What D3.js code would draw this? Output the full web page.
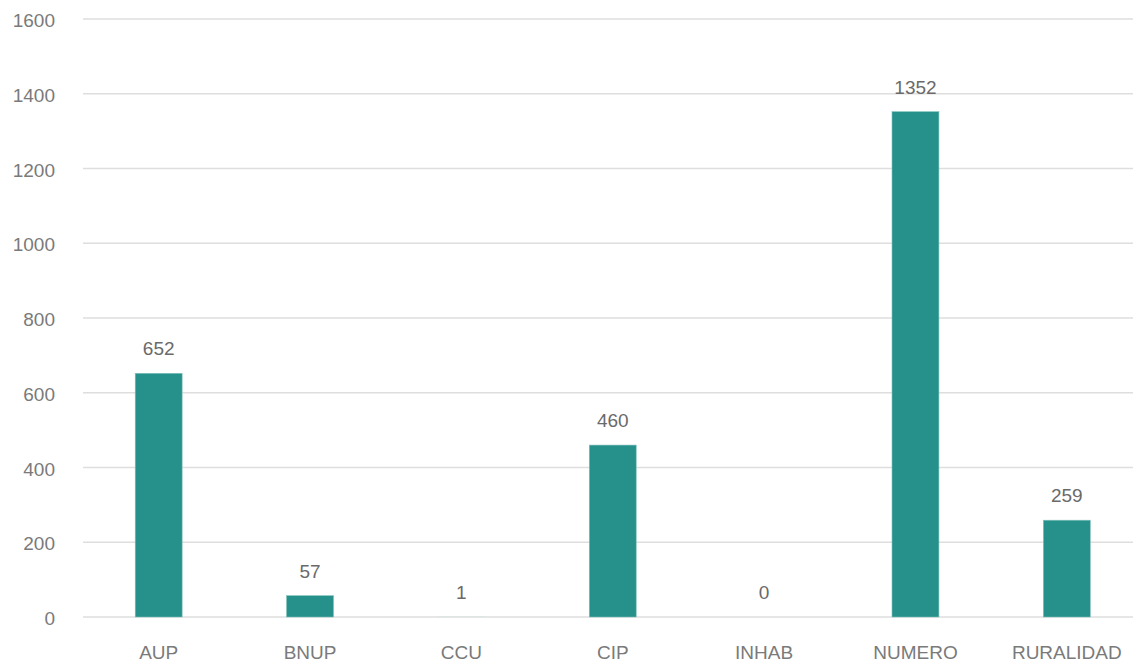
<!DOCTYPE html>
<html><head><meta charset="utf-8">
<script src="https://cdn.jsdelivr.net/npm/d3@7"></script>
<style>body{margin:0;background:#fff}svg{display:block}</style>
</head><body>
<svg id="c" width="1133" height="664"></svg>
<script>
const categories = ["AUP","BNUP","CCU","CIP","INHAB","NUMERO","RURALIDAD"];
const values = [652,57,1,460,0,1352,259];
const yTicks = [0,200,400,600,800,1000,1200,1400,1600];

const svg = d3.select("#c");
const font = "'Liberation Sans', Arial, sans-serif";
const x = d3.scaleBand().domain(categories).range([83,1142.5]).paddingInner(0.69).paddingOuter(0.345);
const y = d3.scaleLinear().domain([0,1600]).range([617,19]);

const g = svg.append("g");
g.selectAll("line.grid").data(yTicks).join("line")
  .attr("x1",83).attr("x2",1133)
  .attr("y1",d=>y(d)).attr("y2",d=>y(d))
  .attr("stroke","#dedede").attr("stroke-width",1.5);

g.selectAll("text.yt").data(yTicks).join("text")
  .attr("x",55).attr("y",d=>y(d)+8)
  .attr("text-anchor","end").attr("font-family",font).attr("font-size",19)
  .attr("fill","#7a7a7a").text(d=>d);

g.selectAll("rect.bar").data(values).join("rect")
  .attr("x",(d,i)=>x(categories[i]))
  .attr("width",x.bandwidth())
  .attr("y",d=>y(d))
  .attr("height",d=>y(0)-y(d))
  .attr("fill",(d,i)=> d<5 ? "#cfe6e4" : "#26918a")
  .attr("stroke",(d,i)=> d<5 ? "none" : "#7fc0ba").attr("stroke-width",0.6);

g.selectAll("text.vl").data(values).join("text")
  .attr("x",(d,i)=>x(categories[i])+x.bandwidth()/2)
  .attr("y",d=>y(d)-18)
  .attr("text-anchor","middle").attr("font-family",font).attr("font-size",19)
  .attr("fill","#6a6a6a").text(d=>d);

g.selectAll("text.xl").data(categories).join("text")
  .attr("x",d=>x(d)+x.bandwidth()/2)
  .attr("y",659)
  .attr("text-anchor","middle").attr("font-family",font).attr("font-size",19)
  .attr("fill","#7a7a7a").text(d=>d);
</script>
</body></html>
